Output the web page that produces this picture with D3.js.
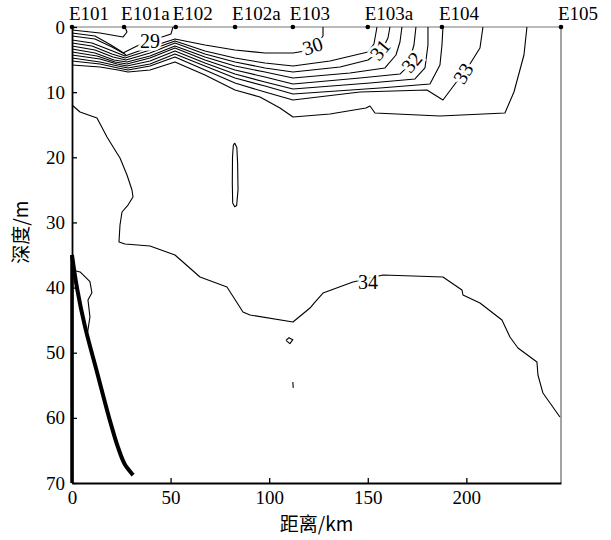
<!DOCTYPE html>
<html><head><meta charset="utf-8">
<script src="https://cdn.jsdelivr.net/npm/d3@7"></script>
<style>body{margin:0;background:#fff}</style>
</head><body>
<svg id="c" width="611" height="540"></svg>
<script>
// ---- data ----
const stations = ["E101","E101a","E102","E102a","E103","E103a","E104","E105"];
const stationKm = [0,26.4,52.6,82.7,112,150,187.6,248];
const xTicks = [0,50,100,150,200];
const yTicks = [0,10,20,30,40,50,60,70];

// contour polylines: [km, depth m]
const cT1 = [[0,0.46],[14.2,0.92],[25.86,1.54],[27.89,0.77],[26.88,0]];
const cL2 = [[0,0.92],[11.66,1.38],[19.78,2.76],[25.36,3.84],[27.38,4.30]];
const c29 = [[0,1.38],[11.66,1.84],[20.28,3.07],[25.86,3.99],[32.96,2.92],[39.55,2.15],[47.16,1.38],[50.2,1.07],[51.22,0]];
const c30 = [[0,2.0],[10.14,2.46],[19.27,3.53],[26.88,4.45],[39.55,3.07],[52.23,1.84],[67.44,2.76],[82.66,3.53],[97.87,3.99],[112.07,3.99],[118.2,3.68],[123.5,2.8],[127.3,1.38],[127.3,0]];
const c305 = [[0,2.46],[10.14,2.92],[20.28,4.14],[26.88,4.76],[39.55,3.53],[52.23,2.15],[67.44,3.68],[82.66,4.76],[97.87,5.53],[112.07,5.99],[130.83,5.22],[150.1,3.84],[153.14,2.61],[154.67,0]];
const c31 = [[0,2.92],[11.66,3.53],[20.79,4.61],[27.38,5.07],[39.55,3.99],[52.23,2.46],[67.44,4.14],[82.66,5.37],[97.87,6.29],[112.07,6.91],[135.9,6.14],[150.1,5.07],[157.2,3.53],[160.24,1.69],[161.26,0]];
const c315 = [[0,3.38],[11.66,3.99],[21.3,5.07],[27.89,5.37],[39.55,4.45],[52.23,2.92],[67.44,4.61],[82.66,5.99],[97.87,6.91],[112.07,7.83],[140.97,7.06],[158.72,6.29],[164.3,4.30],[166.33,2.30],[167.34,0]];
const c32 = [[0,3.84],[12.68,4.45],[21.8,5.37],[27.89,5.68],[39.55,4.76],[52.23,3.22],[67.44,5.07],[82.66,6.60],[97.87,7.68],[112.07,8.75],[146.04,7.83],[166.33,7.22],[170.39,5.99],[173.43,2.76],[174.44,0]];
const c325 = [[0,4.30],[14.2,4.91],[22.82,5.68],[27.89,5.99],[39.55,5.22],[52.23,3.68],[67.44,5.53],[82.66,7.22],[97.87,8.44],[112.07,9.52],[151.12,8.6],[173.94,7.98],[179.01,6.29],[180.53,2.76],[180.53,0]];
const c328 = [[0,4.76],[14.2,5.37],[23.33,5.99],[28.4,6.29],[39.55,5.68],[52.23,4.14],[67.44,5.99],[82.66,7.83],[97.87,9.06],[112.07,10.29],[156.19,9.36],[181.54,8.75],[186.61,5.83],[187.63,2.76],[188.13,0]];
const c33 = [[0,5.22],[14.2,5.68],[23.33,6.29],[28.4,6.60],[39.55,5.99],[52.23,4.61],[67.44,6.60],[82.66,8.6],[97.87,9.98],[112.07,11.21],[146.04,9.98],[180.02,9.67],[188.13,11.21],[194.22,8.75],[201.83,5.68],[206.9,3.22],[208.42,0]];
const c335 = [[0,5.83],[14.2,6.14],[23.33,6.60],[28.4,6.91],[39.55,6.60],[52.23,5.37],[67.44,7.37],[82.66,9.67],[95.33,10.75],[105.48,12.43],[112.07,13.82],[130.83,13.36],[149.09,12.43],[151.12,12.13],[153.65,13.20],[186.61,13.66],[219.57,13.20],[224.14,9.98],[229.21,4.30],[230.73,0]];
const c34 = [[0,11.97],[4.06,13.05],[12.68,13.97],[17.75,16.89],[21.8,18.88],[24.34,20.11],[27.89,22.72],[30.43,25.02],[30.93,26.10],[28.4,27.33],[25.36,28.40],[24.34,30.40],[23.83,33.01],[26.88,33.31],[39.55,33.62],[52.23,35.0],[64.91,38.38],[78.6,39.91],[86.71,43.75],[90.26,44.21],[112.07,45.29],[120.69,43.14],[123.23,42.22],[127.28,40.84],[142.49,39.15],[157.71,38.07],[188.13,38.38],[197.77,40.37],[198.28,41.14],[206.9,42.37],[218.05,44.98],[222.11,47.59],[226.17,49.28],[235.8,51.43],[236.31,53.42],[238.84,56.19],[247.46,59.87]];
const c34left = [[0,37.3],[4.1,37.6],[9.1,39.1],[10.1,40.8],[8.1,41.9],[9.1,44.5],[8.1,46.5],[7.5,47.5]];
const cLoopA = [[82.5,17.8],[83.6,18.5],[84.0,21],[84.2,25],[83.5,27.4],[82.5,27.6],[81.5,27],[81.3,24],[81.4,20],[81.8,18.2],[82.5,17.8]];
const cLoopB = [[108.5,48.1],[110,47.7],[112,48.0],[110.5,48.6],[108.5,48.1]];
const cTick = [[112,54.5],[112.2,55.4]];
const bottomCurve = [[0,35],[2.5,40],[6.6,46],[12.7,53],[19.3,60.5],[23.3,64.5],[26.9,67.2],[31,68.8]];
const bottomWall = [[0,35],[0,70]];

const contourLines = [cT1,cL2,c29,c30,c305,c31,c315,c32,c325,c328,c33,c335,c34,c34left,cLoopA,cLoopB,cTick];
const labelText = ["29","30","31","32","33","34"];
const labelPos = [[39.55,2.1],[122.0,2.9],[156.2,3.5],[172.2,5.4],[198.3,7.1],[150.1,39.1]];
const labelRot = [0,-18,-50,-50,-58,0];

// ---- drawing ----
const svg = d3.select("#c");
const x = d3.scaleLinear().domain([0,248]).range([72,561]);
const y = d3.scaleLinear().domain([0,70]).range([27,483]);
const line = d3.line().x(d=>x(d[0])).y(d=>y(d[1]));
const smooth = d3.line().x(d=>x(d[0])).y(d=>y(d[1])).curve(d3.curveCatmullRom);
const serif = "'Liberation Serif','Times New Roman',serif";

// top line and right edge
svg.append("line").attr("x1",x(0)).attr("x2",x(248)).attr("y1",y(0)).attr("y2",y(0))
  .attr("stroke","#777").attr("stroke-width",1.2);
svg.append("line").attr("x1",x(248)).attr("x2",x(248)).attr("y1",y(0)).attr("y2",y(70))
  .attr("stroke","#666").attr("stroke-width",1.2);

// contours
svg.append("g").selectAll("path").data(contourLines).join("path")
  .attr("d",line).attr("fill","none").attr("stroke","#000").attr("stroke-width",1.1)
  .attr("stroke-linejoin","round");

// bottom topography
svg.append("path").attr("d",smooth(bottomCurve)).attr("fill","none").attr("stroke","#000").attr("stroke-width",4).attr("stroke-linecap","butt");
svg.append("path").attr("d",line(bottomWall)).attr("fill","none").attr("stroke","#000").attr("stroke-width",3.5);

// axes
const gx = svg.append("g").attr("transform",`translate(0,${y(70)})`)
  .call(d3.axisBottom(x).tickValues(xTicks).tickSizeInner(-5).tickSizeOuter(0).tickPadding(8));
const gy = svg.append("g").attr("transform",`translate(${x(0)},0)`)
  .call(d3.axisLeft(y).tickValues(yTicks).tickSizeInner(-5).tickSizeOuter(0).tickPadding(7));
[gx,gy].forEach(g=>{
  g.select(".domain").attr("stroke","#000").attr("stroke-width",1.8);
  g.selectAll(".tick line").attr("stroke","#000").attr("stroke-width",1.3);
  g.selectAll(".tick text").attr("font-family",serif).attr("font-size",19).attr("fill","#000");
});

// stations
const gs = svg.append("g");
gs.selectAll("circle").data(stationKm).join("circle")
  .attr("cx",d=>x(d)).attr("cy",y(0)).attr("r",2.3).attr("fill","#000");
gs.selectAll("text").data(stations).join("text")
  .attr("x",(d,i)=>x(stationKm[i])-3).attr("y",20)
  .attr("font-family",serif).attr("font-size",19).text(d=>d);

// contour labels
svg.append("g").selectAll("text").data(labelText).join("text")
  .attr("transform",(d,i)=>`translate(${x(labelPos[i][0])},${y(labelPos[i][1])}) rotate(${labelRot[i]})`)
  .attr("text-anchor","middle").attr("dy","0.35em")
  .attr("font-family",serif).attr("font-size",20)
  .attr("stroke","#fff").attr("stroke-width",5).attr("paint-order","stroke")
  .attr("fill","#000").text(d=>d);

// axis titles
svg.append("text").attr("x",(x(0)+x(248))/2).attr("y",531).attr("text-anchor","middle")
  .attr("font-family","'Noto Sans CJK SC',sans-serif").attr("font-size",19).text("距离/km");
svg.append("text").attr("transform",`translate(28,${y(31.5)}) rotate(-90)`).attr("text-anchor","middle")
  .attr("font-family","'Noto Sans CJK SC',sans-serif").attr("font-size",19).text("深度/m");
</script>
</body></html>
